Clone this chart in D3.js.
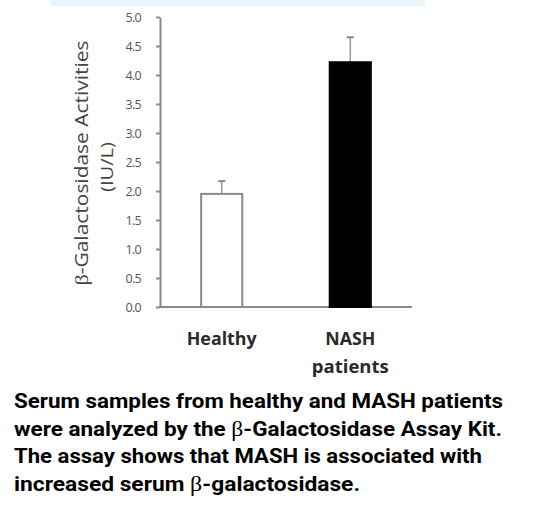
<!DOCTYPE html>
<html><head><meta charset="utf-8">
<script src="https://cdn.jsdelivr.net/npm/d3@7"></script>
<style>body{margin:0;background:#fff}svg{display:block}</style>
</head><body>
<svg id="c" width="560" height="516"></svg>
<script>
const categories = ["Healthy", "NASH"];
const catLines = [["Healthy"], ["NASH", "patients"]];
const means = [1.95, 4.22];
const errs = [0.22, 0.43];
const yTicks = [0, 0.5, 1, 1.5, 2, 2.5, 3, 3.5, 4, 4.5, 5];
const fills = ["#ffffff", "#000000"];
const caption = [
  "Serum samples from healthy and MASH patients",
  "were analyzed by the \u03B2-Galactosidase Assay Kit.",
  "The assay shows that MASH is associated with",
  "increased serum \u03B2-galactosidase."
];

const svg = d3.select("#c");
svg.append("rect").attr("x",50).attr("y",0).attr("width",375).attr("height",6).attr("fill","#eaf4fb");

const y = d3.scaleLinear().domain([0,5]).range([307,17]);
const x = d3.scaleBand().domain(categories).range([160,412]).paddingInner(0.68).paddingOuter(0.32);

const axisCol = "#8a8a8a";
const yAxis = svg.append("g").attr("transform","translate(160,0)")
  .call(d3.axisLeft(y).tickValues(yTicks).tickFormat(d3.format(".1f")).tickSize(4).tickSizeOuter(0));
yAxis.select(".domain").attr("stroke",axisCol).attr("stroke-width",2);
yAxis.selectAll(".tick line").attr("stroke",axisCol).attr("stroke-width",2);
yAxis.selectAll(".tick text").attr("fill","#555").attr("font-family","Open Sans, sans-serif")
  .attr("font-size",12.5).attr("letter-spacing",-0.7).attr("x",-19);

svg.append("line").attr("x1",159).attr("x2",412).attr("y1",y(0)).attr("y2",y(0)).attr("stroke",axisCol).attr("stroke-width",2);

// error bars
categories.forEach((c,i)=>{
  const cx = x(c)+x.bandwidth()/2;
  svg.append("line").attr("x1",cx).attr("x2",cx).attr("y1",y(means[i])).attr("y2",y(means[i]+errs[i])).attr("stroke","#999").attr("stroke-width",1.5);
  svg.append("line").attr("x1",cx-3.5).attr("x2",cx+3.5).attr("y1",y(means[i]+errs[i])).attr("y2",y(means[i]+errs[i])).attr("stroke","#888").attr("stroke-width",2);
});
svg.selectAll("rect.bar").data(categories).join("rect").attr("class","bar")
  .attr("x",d=>x(d)).attr("width",x.bandwidth())
  .attr("y",(d,i)=>y(means[i])).attr("height",(d,i)=>y(0)-y(means[i]))
  .attr("fill",(d,i)=>fills[i]).attr("stroke",(d,i)=>i===0?"#8a8a8a":"#000").attr("stroke-width",2);

// category labels
const catW = [[70],[50,77]];
categories.forEach((c,i)=>{
  const cx = x(c)+x.bandwidth()/2;
  catLines[i].forEach((t,j)=>{
    svg.append("text").attr("x",cx - catW[i][j]/2).attr("y",345+j*28)
      .attr("font-family","Open Sans, sans-serif").attr("font-weight",700).attr("font-size",17).attr("fill","#2a2a2a")
      .attr("textLength",catW[i][j]).attr("lengthAdjust","spacingAndGlyphs").text(t);
  });
});

// y label
const t1 = svg.append("text").attr("transform","translate(88,163) rotate(-90)").attr("text-anchor","middle")
  .attr("font-family","Open Sans, sans-serif").attr("font-size",18).attr("fill","#444")
  .attr("textLength",245).attr("lengthAdjust","spacingAndGlyphs");
t1.append("tspan").attr("font-family","Liberation Serif, serif").attr("font-size",19).text("\u03B2");
t1.append("tspan").text("-Galactosidase Activities");
svg.append("text").attr("transform","translate(113,167) rotate(-90)").attr("text-anchor","middle")
  .attr("font-family","Open Sans, sans-serif").attr("font-size",17).attr("fill","#444")
  .attr("textLength",50).attr("lengthAdjust","spacingAndGlyphs").text("(IU/L)");

// caption
const capWidths = [489, 488, 468, 346];
caption.forEach((line,i)=>{
  const t = svg.append("text").attr("x",14).attr("y",408+i*27.5)
    .attr("font-family","Roboto, sans-serif").attr("font-weight",700).attr("font-size",21).attr("fill","#000");
  const parts = line.split("\u03B2");
  parts.forEach((p,k)=>{
    if(k>0) t.append("tspan").attr("font-family","Liberation Serif, serif").attr("font-weight",400).attr("font-size",22).text("\u03B2");
    t.append("tspan").text(p);
  });
  t.attr("textLength",capWidths[i]).attr("lengthAdjust","spacingAndGlyphs");
});
</script>
</body></html>
